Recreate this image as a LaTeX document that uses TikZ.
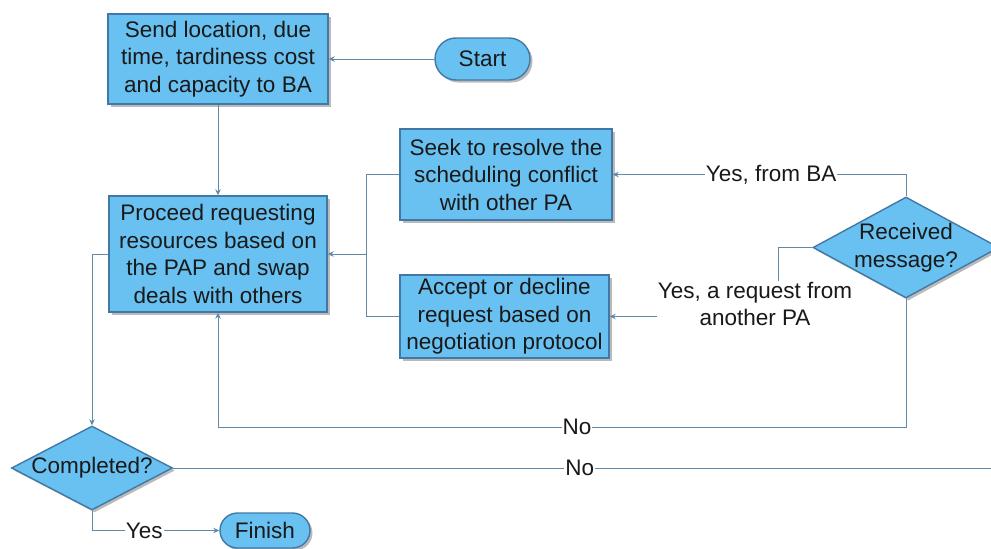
\documentclass[tikz,border=0pt]{standalone}
\usepackage{fontspec}
\setmainfont{Liberation Sans}
\usetikzlibrary{shapes.geometric,shapes.misc,shadows,arrows.meta,calc}
\definecolor{boxfill}{RGB}{104,193,240}
\definecolor{boxline}{RGB}{66,120,165}
\definecolor{conn}{RGB}{96,138,168}
\definecolor{txt}{RGB}{25,25,25}
\begin{document}
\begin{tikzpicture}[x=1pt,y=-1pt,
  font=\fontsize{22.5}{27.5}\selectfont, text=txt,
  shad/.style={drop shadow={shadow xshift=2.5pt,shadow yshift=-2.5pt,fill=black!45,opacity=0.6}},
  procbox/.style={draw=boxline,line width=1.4pt,fill=boxfill,shad,align=center,inner sep=0pt},
  term/.style={draw=boxline,line width=1.4pt,fill=boxfill,shad,rounded rectangle,inner sep=0pt},
  dec/.style={draw=boxline,line width=1.4pt,fill=boxfill,shad,diamond,inner sep=0pt},
  arr/.style={draw=conn,line width=0.9pt,-{Stealth[length=6pt,width=5.5pt]}},
  ln/.style={draw=conn,line width=0.9pt},
  lbl/.style={fill=white,inner sep=1pt,align=center}]
\useasboundingbox (0,0) rectangle (991,549);

\node[procbox,minimum width=220pt,minimum height=90pt] (send) at (218,59)
  {Send location, due\\time, tardiness cost\\and capacity to BA};
\node[term,minimum width=95pt,minimum height=42pt] (start) at (482.5,59) {Start};
\node[procbox,minimum width=218pt,minimum height=116pt] (proc) at (218,254)
  {Proceed requesting\\resources based on\\the PAP and swap\\deals with others};
\node[procbox,minimum width=212pt,minimum height=91pt] (seek) at (506,174.5)
  {Seek to resolve the\\scheduling conflict\\with other PA};
\node[procbox,minimum width=209pt,minimum height=83pt] (acc) at (504.5,316.5)
  {Accept or decline\\request based on\\negotiation protocol};
\node[dec,minimum width=186pt,minimum height=101pt,
  label={[align=center]center:Received\\message?}] (recv) at (906,247.5) {};
\node[dec,minimum width=161pt,minimum height=84pt,
  label={center:Completed?}] (comp) at (92,468) {};
\node[term,minimum width=90pt,minimum height=35pt] (fin) at (265,530.5) {Finish};

\coordinate (join) at (366,254);
\coordinate (noturn) at (218,427);
\coordinate (edge) at (991,468);

\draw[arr] (start.west) -- (send.east);
\draw[arr] (send.south) -- (proc.north);
\draw[ln] (seek.west) -| (join);
\draw[ln] (acc.west) -| (join);
\draw[arr] (join) -- (proc.east);
\draw[arr] (recv.north) |- node[lbl,pos=0.73] {Yes, from BA} (seek.east);
\draw[arr] (recv.west) -- ++(-34,0) |- (acc.east);
\node[lbl] (reqlbl) at (755,304) {Yes, a request from\\another PA};
\draw[ln] (recv.south) |- (noturn);
\draw[arr] (noturn) -- (proc.south);
\node[lbl] (no1) at (577,427) {No};
\draw[arr] (proc.west) -| (comp.north);
\draw[ln] (comp.east) -- node[lbl,pos=0.497] {No} (edge);
\draw[arr] (comp.south) |- node[lbl,pos=0.705] {Yes} (fin.west);
\end{tikzpicture}
\end{document}
